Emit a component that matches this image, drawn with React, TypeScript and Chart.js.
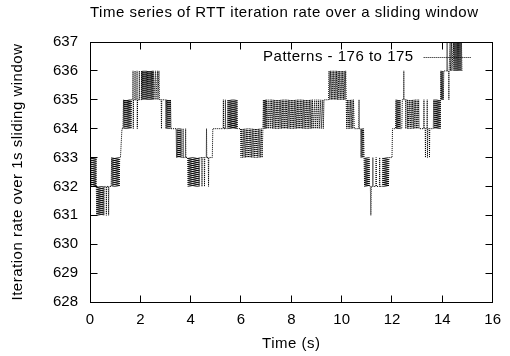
import React, { useEffect, useRef } from 'react';
import { Chart, registerables } from 'chart.js';

Chart.register(...registerables);

const FONT = "'Liberation Sans', Arial, Helvetica, sans-serif";

const chartTitle = 'Time series of RTT iteration rate over a sliding window';
const xAxisTitle = 'Time (s)';
const yAxisTitle = 'Iteration rate over 1s sliding window';
const seriesLabel = 'Patterns - 176 to 175';

const xTicks = [0, 2, 4, 6, 8, 10, 12, 14, 16];
const yTicks = [628, 629, 630, 631, 632, 633, 634, 635, 636, 637];

// [time (s), iteration rate] samples
const seg0to1s: [number, number][] = [
  [0.00, 633], [0.02, 632], [0.04, 633], [0.06, 632], [0.08, 633], [0.10, 632], [0.12, 633], [0.14, 632], [0.16, 633], [0.18, 632], [0.20, 633], [0.22, 632], [0.24, 633], [0.25, 632],
  [0.27, 631], [0.29, 632], [0.31, 631], [0.33, 632], [0.35, 631], [0.37, 632], [0.39, 631], [0.41, 632], [0.43, 631], [0.45, 632], [0.47, 631], [0.49, 632], [0.51, 631], [0.53, 632], [0.55, 631], [0.57, 632],
  [0.64, 632], [0.65, 631], [0.66, 632], [0.73, 632], [0.74, 631], [0.75, 632], [0.84, 632],
  [0.86, 633], [0.88, 632], [0.90, 633], [0.92, 632], [0.94, 633], [0.96, 632], [0.98, 633], [1.00, 632], [1.02, 633], [1.04, 632], [1.06, 633], [1.08, 632], [1.10, 633], [1.12, 632], [1.14, 633], [1.16, 632], [1.18, 633],
];

const seg1to3s: [number, number][] = [
  [1.21, 633], [1.27, 634], [1.31, 634], [1.33, 635], [1.35, 634], [1.37, 635], [1.39, 634], [1.41, 635], [1.43, 634], [1.45, 635], [1.47, 634], [1.49, 635], [1.51, 634], [1.53, 635], [1.55, 634], [1.57, 635], [1.59, 634], [1.61, 635], [1.63, 634], [1.65, 635],
  [1.70, 635], [1.71, 636], [1.72, 634], [1.73, 635], [1.78, 635], [1.79, 636], [1.80, 635], [1.86, 635], [1.87, 636], [1.88, 634], [1.89, 635], [1.95, 635], [1.96, 636], [1.97, 635], [2.04, 635], [2.05, 636], [2.06, 635],
  [2.08, 636], [2.10, 635], [2.12, 636], [2.14, 635], [2.16, 636], [2.18, 635], [2.20, 636], [2.22, 635], [2.24, 636], [2.26, 635], [2.28, 636], [2.30, 635], [2.32, 636], [2.34, 635], [2.36, 636], [2.38, 635], [2.40, 636], [2.42, 635], [2.44, 636], [2.46, 635], [2.48, 636], [2.50, 635], [2.52, 636], [2.54, 635],
  [2.60, 636], [2.62, 635], [2.68, 636], [2.70, 635], [2.74, 636], [2.76, 635],
  [2.83, 635], [2.84, 634], [2.85, 635], [3.00, 635],
];

const seg3to5s: [number, number][] = [
  [3.02, 634], [3.04, 635], [3.06, 634], [3.08, 635], [3.10, 634], [3.12, 635], [3.14, 634], [3.16, 635], [3.18, 634], [3.20, 635], [3.22, 634], [3.42, 634],
  [3.44, 633], [3.46, 634], [3.48, 633], [3.50, 634], [3.52, 633], [3.54, 634], [3.56, 633], [3.58, 634], [3.60, 633], [3.62, 634], [3.64, 633],
  [3.69, 633], [3.70, 634], [3.71, 633], [3.79, 633], [3.80, 634], [3.81, 633], [3.88, 633],
  [3.90, 632], [3.92, 633], [3.94, 632], [3.96, 633], [3.98, 632], [4.00, 633], [4.02, 632], [4.04, 633], [4.06, 632], [4.08, 633], [4.10, 632], [4.12, 633], [4.14, 632], [4.16, 633], [4.18, 632], [4.20, 633], [4.22, 632], [4.24, 633], [4.26, 632], [4.28, 633], [4.30, 632], [4.32, 633], [4.34, 632], [4.36, 633],
  [4.44, 633], [4.45, 632], [4.46, 633], [4.54, 633], [4.55, 632], [4.56, 633], [4.62, 633], [4.63, 634], [4.64, 633], [4.70, 633], [4.71, 632], [4.72, 633], [4.86, 633], [4.88, 634],
];

const seg5to7s: [number, number][] = [
  [5.29, 634], [5.30, 635], [5.31, 634], [5.37, 634], [5.38, 635], [5.39, 634], [5.46, 634],
  [5.48, 635], [5.50, 634], [5.52, 635], [5.54, 634], [5.56, 635], [5.58, 634], [5.60, 635], [5.62, 634], [5.64, 635], [5.66, 634], [5.68, 635], [5.70, 634], [5.72, 635], [5.74, 634], [5.76, 635], [5.78, 634], [5.80, 635], [5.82, 634], [5.84, 635], [5.86, 634], [5.98, 634],
  [6.00, 633], [6.03, 634], [6.06, 633], [6.09, 634], [6.12, 633], [6.15, 634], [6.18, 633], [6.21, 634], [6.24, 633], [6.27, 634], [6.30, 633], [6.33, 634], [6.36, 633], [6.39, 634], [6.42, 633], [6.45, 634], [6.48, 633], [6.51, 634], [6.54, 633], [6.57, 634], [6.60, 633], [6.63, 634], [6.66, 633], [6.69, 634], [6.72, 633], [6.75, 634], [6.78, 633], [6.81, 634], [6.84, 633],
  [6.87, 634], [6.89, 635], [6.91, 634], [6.93, 635], [6.95, 634], [6.97, 635], [6.99, 634], [7.01, 635], [7.03, 634], [7.08, 635], [7.10, 634], [7.16, 635], [7.18, 634],
];

const seg7to9s: [number, number][] = [
  [7.22, 635], [7.25, 634], [7.28, 635], [7.31, 634], [7.34, 635], [7.37, 634], [7.40, 635], [7.43, 634], [7.46, 635], [7.49, 634], [7.52, 635], [7.55, 634], [7.58, 635], [7.61, 634], [7.64, 635], [7.67, 634], [7.70, 635], [7.73, 634], [7.76, 635], [7.79, 634],
  [7.82, 635], [7.85, 634], [7.88, 635], [7.91, 634], [7.94, 635], [7.97, 634], [8.00, 635], [8.03, 634], [8.06, 635], [8.09, 634], [8.12, 635], [8.15, 634], [8.18, 635], [8.21, 634], [8.24, 635], [8.27, 634], [8.30, 635], [8.33, 634], [8.36, 635], [8.39, 634],
  [8.42, 635], [8.45, 634], [8.48, 635], [8.51, 634], [8.54, 635], [8.57, 634], [8.60, 635], [8.63, 634], [8.66, 635], [8.69, 634], [8.72, 635], [8.75, 634], [8.78, 635], [8.81, 634], [8.84, 635], [8.87, 634],
  [8.93, 635], [8.95, 634], [9.01, 635], [9.03, 634], [9.09, 635], [9.11, 634], [9.17, 635], [9.19, 634], [9.25, 635], [9.27, 634], [9.30, 635], [9.48, 635],
];

const seg9to11s: [number, number][] = [
  [9.50, 636], [9.53, 635], [9.56, 636], [9.59, 635], [9.62, 636], [9.65, 635], [9.68, 636], [9.71, 635], [9.74, 636], [9.77, 635], [9.80, 636], [9.83, 635], [9.86, 636], [9.89, 635], [9.92, 636], [9.95, 635], [9.98, 636], [10.01, 635], [10.04, 636], [10.07, 635], [10.10, 636], [10.13, 635], [10.16, 636],
  [10.18, 635], [10.20, 634], [10.23, 635], [10.26, 634], [10.29, 635], [10.32, 634], [10.35, 635], [10.38, 634], [10.41, 635], [10.44, 634], [10.47, 635], [10.50, 634],
  [10.68, 634], [10.69, 635], [10.70, 634], [10.75, 634],
  [10.77, 633], [10.79, 634], [10.81, 633], [10.83, 634], [10.85, 633], [10.87, 634], [10.89, 633],
];

const seg11to13s: [number, number][] = [
  [10.91, 632], [10.93, 633], [10.95, 632], [10.97, 633], [10.99, 632], [11.01, 633], [11.03, 632], [11.05, 633], [11.07, 632], [11.09, 633], [11.11, 632],
  [11.14, 632], [11.16, 631], [11.18, 632], [11.23, 632], [11.24, 633], [11.25, 632], [11.36, 632], [11.37, 633], [11.38, 632], [11.50, 632], [11.51, 633], [11.52, 632], [11.62, 632],
  [11.64, 633], [11.66, 632], [11.68, 633], [11.70, 632], [11.72, 633], [11.74, 632], [11.76, 633], [11.78, 632], [11.80, 633], [11.82, 632], [11.84, 633], [11.86, 632], [11.88, 633],
  [12.00, 633], [12.02, 634], [12.14, 634],
  [12.16, 635], [12.18, 634], [12.20, 635], [12.22, 634], [12.24, 635], [12.26, 634], [12.28, 635], [12.30, 634], [12.32, 635], [12.34, 634],
  [12.39, 634], [12.41, 635], [12.46, 635], [12.47, 636], [12.48, 635],
  [12.54, 635], [12.55, 634], [12.56, 635], [12.61, 635], [12.62, 634], [12.63, 635],
  [12.67, 634], [12.70, 635], [12.73, 634], [12.76, 635], [12.79, 634], [12.82, 635], [12.85, 634], [12.88, 635], [12.91, 634], [12.94, 635], [12.97, 634], [13.00, 635], [13.03, 634], [13.06, 635], [13.08, 634],
];

const seg13to15s: [number, number][] = [
  [13.26, 634], [13.27, 635], [13.28, 634], [13.32, 634], [13.33, 633], [13.34, 634], [13.39, 634], [13.40, 635], [13.41, 633], [13.42, 634], [13.48, 634], [13.49, 633], [13.50, 634], [13.64, 634],
  [13.66, 635], [13.68, 634], [13.70, 635], [13.72, 634], [13.74, 635], [13.76, 634], [13.78, 635], [13.80, 634], [13.82, 635], [13.84, 634], [13.86, 635], [13.88, 634], [13.90, 635], [13.92, 634], [13.93, 635],
  [13.94, 636], [13.96, 635], [13.98, 636], [14.00, 635], [14.02, 636], [14.04, 635], [14.06, 636], [14.18, 636],
  [14.19, 637], [14.20, 636], [14.25, 636], [14.26, 635], [14.27, 636], [14.31, 637], [14.32, 636], [14.37, 637], [14.38, 636], [14.44, 637], [14.46, 636], [14.48, 637], [14.50, 636],
  [14.52, 637], [14.54, 636], [14.56, 637], [14.58, 636], [14.60, 637], [14.62, 636], [14.64, 637], [14.66, 636], [14.68, 637], [14.70, 636], [14.72, 637], [14.74, 636], [14.76, 637], [14.78, 636],
];

const samples: [number, number][] = [
  ...seg0to1s, ...seg1to3s, ...seg3to5s, ...seg5to7s, ...seg7to9s, ...seg9to11s, ...seg11to13s, ...seg13to15s,
];

const TICK_LEN = 7;

const framePlugin = {
  id: 'gnuplotFrame',
  beforeDraw(chart: any) {
    chart.ctx.letterSpacing = '0.5px';
  },
  beforeDatasetsDraw(chart: any) {
    chart.ctx.letterSpacing = '0px';
  },
  afterDraw(chart: any) {
    const { ctx, chartArea: a, scales } = chart;
    const p = (v: number) => Math.floor(v) + 0.5;
    const L = p(a.left), R = p(a.right), T = p(a.top), B = p(a.bottom);
    ctx.save();
    ctx.letterSpacing = '0px';
    ctx.strokeStyle = '#000';
    ctx.lineWidth = 1;
    ctx.setLineDash([]);
    ctx.strokeRect(L, T, R - L, B - T);
    ctx.beginPath();
    xTicks.forEach((v) => {
      const X = p(scales.x.getPixelForValue(v));
      ctx.moveTo(X, B); ctx.lineTo(X, B - TICK_LEN);
      ctx.moveTo(X, T); ctx.lineTo(X, T + TICK_LEN);
    });
    yTicks.forEach((v) => {
      const Y = p(scales.y.getPixelForValue(v));
      ctx.moveTo(L, Y); ctx.lineTo(L + TICK_LEN, Y);
      ctx.moveTo(R, Y); ctx.lineTo(R - TICK_LEN, Y);
    });
    ctx.stroke();

    // key (gnuplot style: text then sample line)
    const ky = a.top + 15;
    ctx.letterSpacing = '0.5px';
    ctx.font = `15px ${FONT}`;
    ctx.fillStyle = '#000';
    ctx.textAlign = 'right';
    ctx.textBaseline = 'middle';
    ctx.fillText(seriesLabel, a.right - 79, ky);
    ctx.setLineDash([1, 1]);
    ctx.beginPath();
    ctx.moveTo(a.right - 69, Math.floor(ky) + 0.5);
    ctx.lineTo(a.right - 21, Math.floor(ky) + 0.5);
    ctx.stroke();
    ctx.restore();
  },
};

export default function App() {
  const ref = useRef<HTMLCanvasElement | null>(null);

  useEffect(() => {
    if (!ref.current) return;
    const font = { family: FONT, size: 15, weight: 'normal' as const, lineHeight: 1.2 };
    const chart = new Chart(ref.current, {
      type: 'line',
      data: {
        datasets: [
          {
            label: seriesLabel,
            data: samples.map(([x, y]) => ({ x, y })),
            borderColor: '#000',
            borderWidth: 1,
            borderDash: [1, 1],
            pointRadius: 0,
            fill: false,
            tension: 0,
          },
        ],
      },
      options: {
        animation: false,
        responsive: false,
        devicePixelRatio: 1,
        layout: { padding: { left: 0, right: 16, top: 0, bottom: 0 } },
        plugins: {
          legend: { display: false },
          tooltip: { enabled: false },
          title: {
            display: true,
            text: chartTitle,
            align: 'start',
            fullSize: false,
            color: '#000',
            font,
            padding: { top: 3.5, bottom: 20.5 },
          },
        },
        scales: {
          x: {
            type: 'linear',
            min: xTicks[0],
            max: xTicks[xTicks.length - 1],
            grid: { display: false, drawTicks: false },
            border: { display: false },
            ticks: { stepSize: xTicks[1] - xTicks[0], padding: 9, color: '#000', font, z: 1, maxRotation: 0, autoSkip: false },
            title: { display: true, text: xAxisTitle, color: '#000', font, padding: { top: 0, bottom: 3 } },
            afterFit: (s: any) => { s.height = 54; },
          },
          y: {
            type: 'linear',
            min: yTicks[0],
            max: yTicks[yTicks.length - 1],
            grid: { display: false, drawTicks: false },
            border: { display: false },
            ticks: { stepSize: yTicks[1] - yTicks[0], padding: 12, color: '#000', font, z: 1, autoSkip: false },
            title: { display: true, text: yAxisTitle, color: '#000', font, padding: { top: 9, bottom: 0 } },
            afterFit: (s: any) => { s.width = 90; },
          },
        },
      },
      plugins: [framePlugin],
    } as any);
    return () => chart.destroy();
  }, []);

  return (
    <div style={{ position: 'fixed', left: 0, top: 0, width: 510, height: 356, background: '#fff' }}>
      <canvas ref={ref} width={510} height={356} style={{ display: 'block', width: 510, height: 356 }} />
    </div>
  );
}
